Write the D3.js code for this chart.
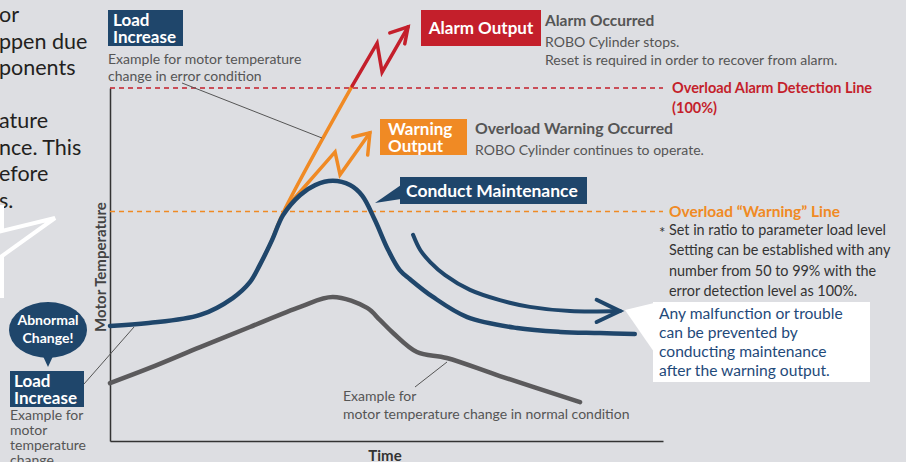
<!DOCTYPE html>
<html>
<head>
<meta charset="utf-8">
<script src="https://cdn.jsdelivr.net/npm/d3@7"></script>
<style>
  body { margin: 0; background: #dddee2; }
  svg { display: block; font-family: Lato, "Noto Sans", sans-serif; }
</style>
</head>
<body>
<script>
// time (0-100) / motor temperature (% of alarm level)
const alarmLevel = 100;
const warningLevel = 65;

// abnormal condition (blue)
const abnormalT = [0, 7, 16.3, 22.2, 25.3, 27.1, 29.3, 31.3, 34.4, 37.1, 40.3, 43.4, 45.6, 47.9, 50.3, 52.4, 54.2, 58.4, 64.6, 73.6, 81.4, 88.6, 94.9];
const abnormalV = [32.6, 33.4, 35.7, 40.5, 45, 49.9, 56.9, 64, 69.7, 72.5, 73.7, 72.5, 69.5, 62.6, 54.1, 48.4, 45.9, 40.8, 35.1, 32, 30.9, 30.6, 30.3];

// normal condition (gray)
const normalT = [0, 7.2, 16.3, 25.3, 34.4, 40.3, 46.5, 48.8, 51.2, 55.5, 60.9, 70.5, 85];
const normalV = [16.4, 20.7, 26.6, 32.3, 38, 40.8, 37.7, 34.3, 30.6, 25.2, 23.5, 18.4, 11];

// recovery after maintenance (blue arrow)
const recoveryT = [54.8, 56.1, 57.9, 60.6, 65.1, 70.5, 75.9, 83.2, 92.2];
const recoveryV = [58.4, 54.1, 50.7, 47, 42.8, 39.9, 38, 36.8, 36.8];
const recoveryHeadT = [88, 92.2, 88];
const recoveryHeadV = [40, 36.8, 33.7];

// error condition rising (orange) then alarm (red)
const errorT = [26.8, 28.9, 31.3, 43.8];
const errorV = [49, 55.5, 64.6, 100.6];
const alarmT = [43.8, 48.3, 49.2, 53.9];
const alarmV = [100.6, 112.7, 104.5, 117.3];
const alarmHeadT = [50.6, 53.9, 53.3];
const alarmHeadV = [115.6, 117.3, 112.5];

// warning output zigzag (orange)
const warnT = [31.8, 40.7, 41.6, 47];
const warnV = [66, 81.9, 75.4, 87.3];
const warnHeadT = [43.9, 47, 46.6];
const warnHeadV = [86.1, 87.3, 81];

const introLines = ["or", "ppen due", "ponents", "", "ature", "nce. This", "efore", "s."];
const noteLines = ["Set in ratio to parameter load level", "Setting can be established with any", "number from 50 to 99% with the", "error detection level as 100%."];
const calloutLines = ["Any malfunction or trouble", "can be prevented by", "conducting maintenance", "after the warning output."];

const NAVY = "#1f466b", ORANGE = "#f08a24", RED = "#c41f2b", GRAY = "#5b5a5c", TEXT = "#555";

const width = 906, height = 462;
const svg = d3.select("body").append("svg").attr("width", width).attr("height", height);
svg.append("rect").attr("width", width).attr("height", height).attr("fill", "#dddee2");

const x = d3.scaleLinear().domain([0, 100]).range([110, 663]);
const y = d3.scaleLinear().domain([0, 100]).range([441, 88]);

function multiline(g, lines, x0, y0, dy, attrs) {
    const t = g.append("text").attr("x", x0).attr("y", y0);
    Object.entries(attrs || {}).forEach(([k, v]) => t.attr(k, v));
    lines.forEach((s, i) => t.append("tspan").attr("x", x0).attr("y", y0 + i * dy).text(s));
    return t;
}

// intro paragraph, cut at the left edge
multiline(svg, introLines, -1, 22, 26.5, { "font-size": 21.5, fill: "#231f20" });
svg.append("path").attr("d", "M2,205 L2,231 L55,218 L2,256 L2,298")
    .attr("fill", "none").attr("stroke", "#fff").attr("stroke-width", 4).attr("stroke-linejoin", "miter");

// axes
svg.append("g").attr("transform", `translate(${x(0)},0)`)
    .call(d3.axisLeft(y).tickValues([]).tickSizeOuter(0))
    .select(".domain").attr("stroke", "#333").attr("stroke-width", 1.5);
svg.append("g").attr("transform", `translate(0,${y(0)})`)
    .call(d3.axisBottom(x).tickValues([]).tickSizeOuter(0))
    .select(".domain").attr("stroke", "#333").attr("stroke-width", 1.5);

svg.append("text").attr("x", 385).attr("y", 461).attr("text-anchor", "middle")
    .attr("font-size", 15).attr("font-weight", "bold").attr("fill", "#333").text("Time");
svg.append("text").attr("transform", "translate(106,267) rotate(-90)").attr("text-anchor", "middle")
    .attr("font-size", 15).attr("font-weight", "bold").attr("fill", "#444").text("Motor Temperature");

// threshold lines
svg.append("line").attr("x1", x(0)).attr("x2", x(100)).attr("y1", y(alarmLevel)).attr("y2", y(alarmLevel))
    .attr("stroke", RED).attr("stroke-width", 1.5).attr("stroke-dasharray", "5,4");
svg.append("line").attr("x1", x(0)).attr("x2", x(100)).attr("y1", y(warningLevel)).attr("y2", y(warningLevel))
    .attr("stroke", ORANGE).attr("stroke-width", 1.5).attr("stroke-dasharray", "5,4");

const smooth = d3.line().x(d => x(d[0])).y(d => y(d[1])).curve(d3.curveCatmullRom.alpha(0.5));
const straight = d3.line().x(d => x(d[0])).y(d => y(d[1]));
const pts = (T, V) => T.map((t, i) => [t, V[i]]);

function draw(gen, data, color, w) {
    return svg.append("path").datum(data).attr("d", gen).attr("fill", "none")
        .attr("stroke", color).attr("stroke-width", w)
        .attr("stroke-linecap", "round").attr("stroke-linejoin", "miter");
}

// curves
draw(smooth, pts(normalT, normalV), GRAY, 4.5);
draw(smooth, pts(errorT, errorV), ORANGE, 3.5);
draw(straight, pts(alarmT, alarmV), RED, 3.5);
draw(straight, pts(alarmHeadT, alarmHeadV), RED, 3.5);
draw(straight, pts(warnT, warnV), ORANGE, 3.5);
draw(straight, pts(warnHeadT, warnHeadV), ORANGE, 3.5);
draw(smooth, pts(abnormalT, abnormalV), NAVY, 4.5);
draw(smooth, pts(recoveryT, recoveryV), NAVY, 4);
draw(straight, pts(recoveryHeadT, recoveryHeadV), NAVY, 4);

// leader lines
[[182, 83, 322, 138], [84, 384, 134, 327], [415, 387, 447, 362]].forEach(l =>
    svg.append("line").attr("x1", l[0]).attr("y1", l[1]).attr("x2", l[2]).attr("y2", l[3])
        .attr("stroke", "#555").attr("stroke-width", 1));

// top "Load Increase"
svg.append("rect").attr("x", 108).attr("y", 10).attr("width", 75).attr("height", 36).attr("fill", NAVY);
multiline(svg, ["Load", "Increase"], 113, 26, 17, { "font-size": 17, "font-weight": "bold", fill: "#fff" });
multiline(svg, ["Example for motor temperature", "change in error condition"], 108, 64, 17, { "font-size": 14, fill: TEXT });

// alarm output
svg.append("rect").attr("x", 421).attr("y", 10).attr("width", 120).attr("height", 36).attr("fill", RED);
svg.append("text").attr("x", 481).attr("y", 34).attr("text-anchor", "middle")
    .attr("font-size", 17).attr("font-weight", "bold").attr("fill", "#fff").text("Alarm Output");
svg.append("text").attr("x", 545).attr("y", 26).attr("font-size", 15.5).attr("font-weight", "bold").attr("fill", TEXT).text("Alarm Occurred");
multiline(svg, ["ROBO Cylinder stops.", "Reset is required in order to recover from alarm."], 545, 47, 18, { "font-size": 14, fill: TEXT });

// warning output
svg.append("rect").attr("x", 380).attr("y", 119).attr("width", 87).attr("height", 36).attr("fill", ORANGE);
multiline(svg, ["Warning", "Output"], 388, 135, 17, { "font-size": 17, "font-weight": "bold", fill: "#fff" });
svg.append("text").attr("x", 475).attr("y", 134).attr("font-size", 15.8).attr("font-weight", "bold").attr("fill", TEXT).text("Overload Warning Occurred");
svg.append("text").attr("x", 475).attr("y", 155).attr("font-size", 14).attr("fill", TEXT).text("ROBO Cylinder continues to operate.");

// conduct maintenance
svg.append("path").attr("d", "M401,185 L401,199 L375,203 Z").attr("fill", NAVY);
svg.append("rect").attr("x", 400).attr("y", 177).attr("width", 187).attr("height", 27).attr("fill", NAVY);
svg.append("text").attr("x", 406).attr("y", 197).attr("font-size", 17.5).attr("font-weight", "bold").attr("fill", "#fff").text("Conduct Maintenance");

// right side labels
multiline(svg, ["Overload Alarm Detection Line", "(100%)"], 672, 93, 20, { "font-size": 14.5, "font-weight": "bold", fill: RED });
svg.append("text").attr("x", 669).attr("y", 217).attr("font-size", 15.5).attr("font-weight", "bold").attr("fill", ORANGE).text("Overload \u201cWarning\u201d Line");
svg.append("text").attr("x", 659).attr("y", 238).attr("font-size", 15).attr("fill", "#333").text("*");
multiline(svg, noteLines, 669, 235, 20.3, { "font-size": 14.4, fill: "#333" });

// white callout
svg.append("path").attr("d", "M625,310 L654,303 L654,352 Z").attr("fill", "#fff");
svg.append("rect").attr("x", 653).attr("y", 302).attr("width", 217).attr("height", 80).attr("fill", "#fff");
multiline(svg, calloutLines, 659, 319, 19, { "font-size": 15.6, fill: "#1f4a7a" });

// abnormal change bubble
svg.append("ellipse").attr("cx", 48).attr("cy", 330).attr("rx", 39).attr("ry", 28).attr("fill", NAVY);
svg.append("path").attr("d", "M42,354 L54,354 L48,367 Z").attr("fill", NAVY);
multiline(svg, ["Abnormal", "Change!"], 48, 325, 18, { "font-size": 14, "font-weight": "bold", fill: "#fff", "text-anchor": "middle" });

// bottom "Load Increase"
svg.append("rect").attr("x", 10).attr("y", 371).attr("width", 74).attr("height", 36).attr("fill", NAVY);
multiline(svg, ["Load", "Increase"], 14, 387, 17, { "font-size": 17, "font-weight": "bold", fill: "#fff" });
multiline(svg, ["Example for", "motor", "temperature", "change"], 10, 420, 15, { "font-size": 14, fill: TEXT });

// normal condition note
multiline(svg, ["Example for", "motor temperature change in normal condition"], 343, 401, 18, { "font-size": 14, fill: TEXT });
</script>
</body>
</html>
